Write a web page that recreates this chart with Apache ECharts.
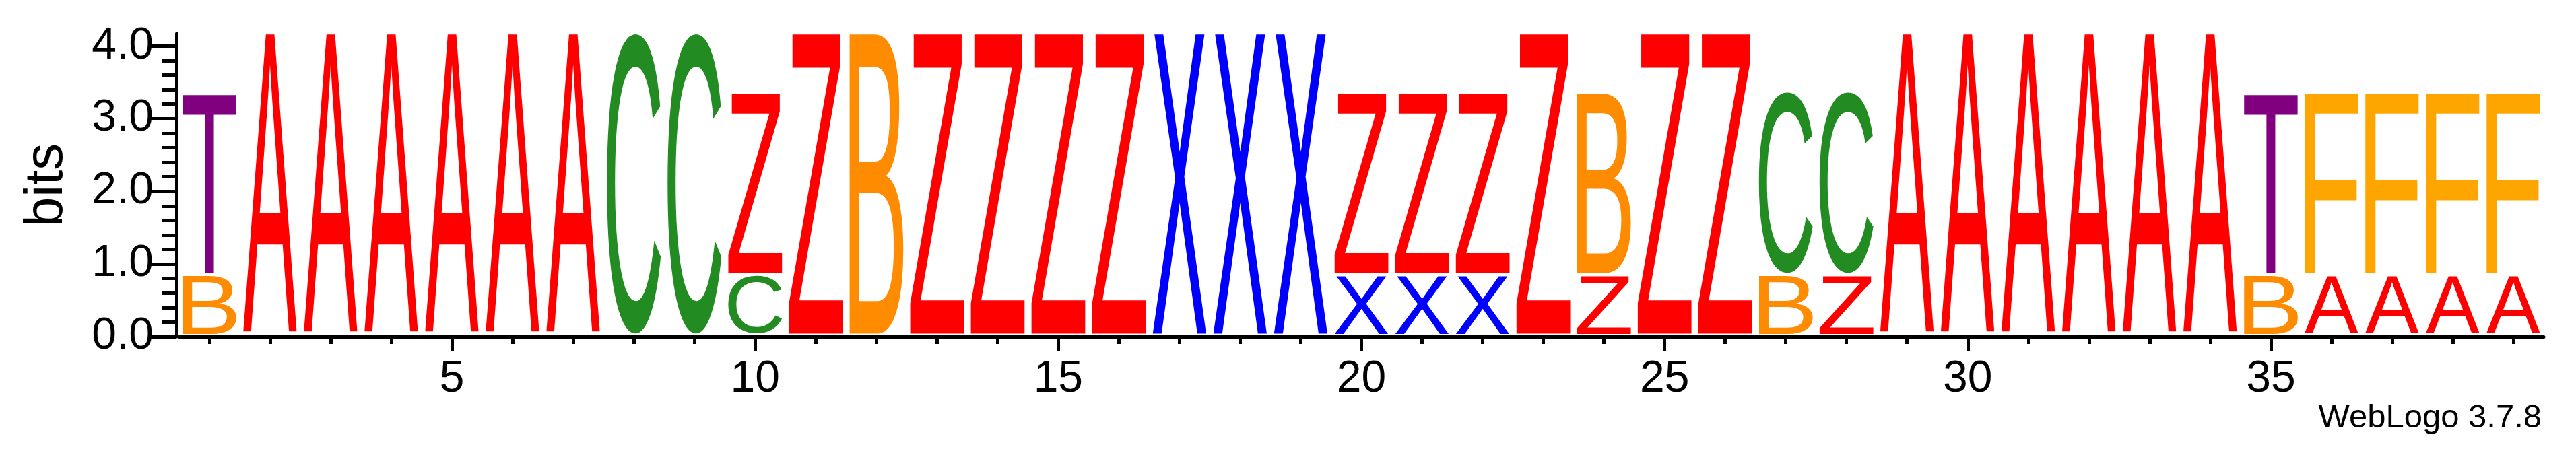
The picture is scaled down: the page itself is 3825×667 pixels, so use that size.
<!DOCTYPE html>
<html><head><meta charset="utf-8">
<script src="https://cdn.jsdelivr.net/npm/echarts@6/dist/echarts.min.js"></script>
<style>html,body{margin:0;padding:0;background:#fff}#chart{width:3825px;height:667px}</style>
</head><body><div id="chart"></div>
<script>
// ---- data ----
const positions = [1,2,3,4,5,6,7,8,9,10,11,12,13,14,15,16,17,18,19,20,21,22,23,24,25,26,27,28,29,30,31,32,33,34,35,36,37,38,39];
const lowerLetters = ['B','','','','','','','','','C','','','','','','','','','','X','X','X','','Z','','','B','Z','','','','','','','B','A','A','A','A'];
const lowerBits    = [0.835,0,0,0,0,0,0,0,0,0.835,0,0,0,0,0,0,0,0,0,0.835,0.835,0.835,0,0.835,0,0,0.835,0.835,0,0,0,0,0,0,0.835,0.835,0.835,0.835,0.835];
const upperLetters = ['T','A','A','A','A','A','A','C','C','Z','Z','B','Z','Z','Z','Z','X','X','X','Z','Z','Z','Z','B','Z','Z','C','C','A','A','A','A','A','A','T','F','F','F','F'];
const upperBits    = [2.515,4.17,4.17,4.17,4.17,4.17,4.17,4.17,4.17,2.515,4.17,4.17,4.17,4.17,4.17,4.17,4.17,4.17,4.17,2.515,2.515,2.515,4.17,2.515,4.17,4.17,2.53,2.53,4.17,4.17,4.17,4.17,4.17,4.17,2.515,2.515,2.515,2.515,2.515];
const yMajorTicks = [0,1,2,3,4];
const yMinorTicks = [0,0.2,0.4,0.6,0.8,1,1.2,1.4,1.6,1.8,2,2.2,2.4,2.6,2.8,3,3.2,3.4,3.6,3.8,4];
const xMajorTicks = [5,10,15,20,25,30,35];
const xMinorTicks = positions;
const yMax = 4.17;

// ---- styles ----
const letterColors = {A:'#ff0000', Z:'#ff0000', T:'#800080', B:'#ff8c00', C:'#228b22', X:'#0000ff', F:'#ffa500'};
const FONT = 'Liberation Sans';
const GLYPH_SIZE = 200;
const STACK_GAP = 4.5;
const LETTER_WIDTH = 0.889;

const measureCtx = document.createElement('canvas').getContext('2d');
const glyphCache = {};
function ink(ch) {
  if (!glyphCache[ch]) {
    measureCtx.font = GLYPH_SIZE + 'px "' + FONT + '"';
    measureCtx.textAlign = 'center';
    measureCtx.textBaseline = 'middle';
    const m = measureCtx.measureText(ch);
    glyphCache[ch] = {l: m.actualBoundingBoxLeft, r: m.actualBoundingBoxRight, a: m.actualBoundingBoxAscent, d: m.actualBoundingBoxDescent};
  }
  return glyphCache[ch];
}

function renderItem(params, api) {
  const p = api.value(0);
  const i = api.value(1);
  const base = api.coord([p, 0]);
  const colW = api.size([1, 0])[0];
  const ppb = api.size([0, 1])[1];
  const w = colW * LETTER_WIDTH;
  const left = base[0] - w / 2;
  const stack = [];
  if (lowerBits[i] > 0) stack.push([lowerLetters[i], lowerBits[i]]);
  stack.push([upperLetters[i], upperBits[i]]);
  let acc = 0;
  const children = [];
  for (const [ch, h] of stack) {
    const bottom = base[1] - acc * ppb - STACK_GAP;
    const top = base[1] - (acc + h) * ppb;
    acc += h;
    const m = ink(ch);
    const sx = w / (m.l + m.r);
    const sy = (bottom - top) / (m.a + m.d);
    children.push({
      type: 'text', silent: true,
      x: left + m.l * sx, y: top + m.a * sy, scaleX: sx, scaleY: sy,
      style: {text: ch, fontSize: GLYPH_SIZE, fontFamily: FONT, fill: letterColors[ch], align: 'center', verticalAlign: 'middle'}
    });
  }
  return {type: 'group', children};
}

const axisLineStyle = {color: '#000', width: 5};
const labelStyle = {color: '#000', fontSize: 66, fontFamily: FONT};

const chart = echarts.init(document.getElementById('chart'), null, {renderer: 'canvas'});
chart.setOption({
  animation: false,
  backgroundColor: '#fff',
  title: {text: 'WebLogo 3.7.8', right: 51, top: 597, padding: 0,
    textStyle: {fontSize: 49, fontWeight: 'normal', fontFamily: FONT, color: '#000'}},
  grid: {left: 266, right: 48, top: 50, bottom: 167, containLabel: false, outerBoundsMode: 'none'},
  xAxis: [
    {type: 'value', min: 0.5, max: 39.5, position: 'bottom',
     axisLine: {show: true, lineStyle: axisLineStyle},
     axisTick: {show: true, customValues: xMajorTicks, length: 22, lineStyle: axisLineStyle},
     axisLabel: Object.assign({customValues: xMajorTicks, margin: 31}, labelStyle),
     splitLine: {show: false}},
    {type: 'value', min: 0.5, max: 39.5, position: 'bottom',
     axisLine: {show: false},
     axisTick: {show: true, customValues: xMinorTicks, length: 11, lineStyle: axisLineStyle},
     axisLabel: {show: false}, splitLine: {show: false}}
  ],
  yAxis: [
    {type: 'value', min: 0, max: yMax, position: 'left', offset: 4,
     axisLine: {show: true, lineStyle: axisLineStyle},
     axisTick: {show: true, customValues: yMajorTicks, length: 42, lineStyle: axisLineStyle},
     axisLabel: Object.assign({customValues: yMajorTicks, margin: 34, formatter: v => v.toFixed(1)}, labelStyle),
     splitLine: {show: false},
     name: 'bits', nameLocation: 'middle', nameRotate: 90, nameGap: 152, nameMoveOverlap: false,
     nameTextStyle: {color: '#000', fontSize: 80, fontFamily: FONT}},
    {type: 'value', min: 0, max: yMax, position: 'left', offset: 4,
     axisLine: {show: false},
     axisTick: {show: true, customValues: yMinorTicks, length: 21, lineStyle: axisLineStyle},
     axisLabel: {show: false}, splitLine: {show: false}}
  ],
  series: [{
    type: 'custom', xAxisIndex: 0, yAxisIndex: 0, clip: false,
    renderItem: renderItem,
    data: positions.map((p, i) => [p, i])
  }]
});
</script></body></html>
